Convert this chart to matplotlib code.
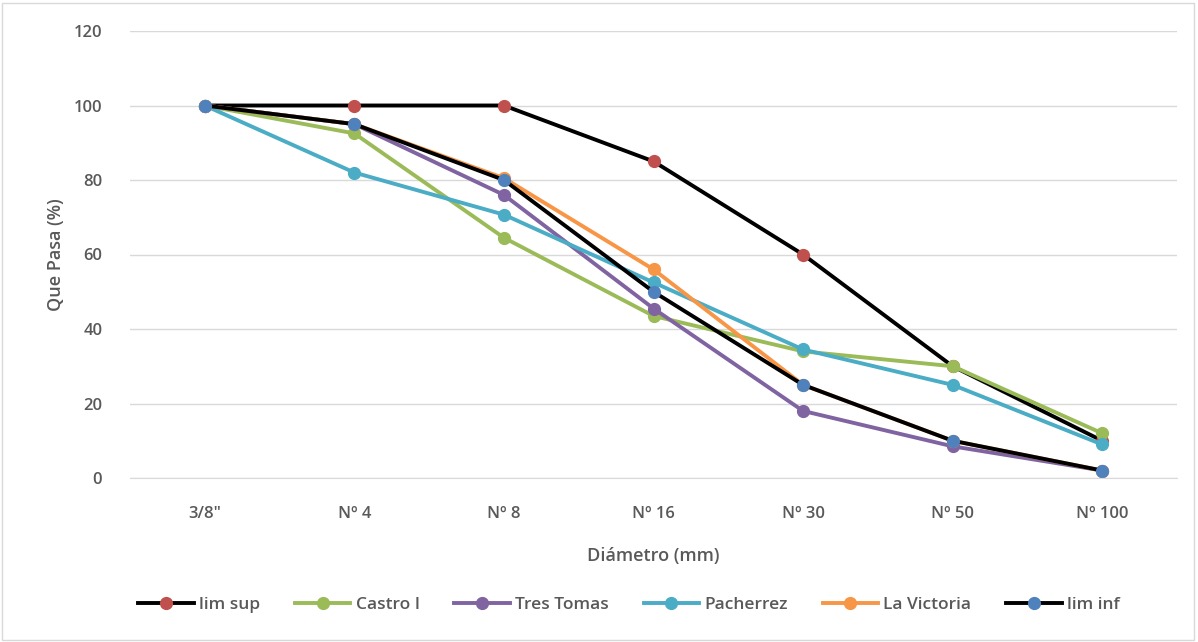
import matplotlib.pyplot as plt
from matplotlib.patches import Rectangle

plt.rcParams['font.family'] = ['Open Sans', 'DejaVu Sans']

categorias = ['3/8"', 'Nº 4', 'Nº 8', 'Nº 16', 'Nº 30', 'Nº 50', 'Nº 100']
lim_sup = [100, 100, 100, 85, 60, 30, 10]
castro = [100, 92.5, 64.5, 43.5, 34, 30, 12]
tres_tomas = [100, 95, 76, 45.5, 18, 8.5, 2]
pacherrez = [100, 82, 70.7, 52.5, 34.5, 25, 9]
la_victoria = [100, 95, 80.5, 56, 25, 10, 2]
lim_inf = [100, 95, 80, 50, 25, 10, 2]

series = [
    ('lim sup', lim_sup, 'black', '#C0504D'),
    ('Castro I', castro, '#9BBB59', '#9BBB59'),
    ('Tres Tomas', tres_tomas, '#8064A2', '#8064A2'),
    ('Pacherrez', pacherrez, '#4BACC6', '#4BACC6'),
    ('La Victoria', la_victoria, '#F79646', '#F79646'),
    ('lim inf', lim_inf, 'black', '#4F81BD'),
]

fig = plt.figure(figsize=(11.98, 6.42), dpi=100)
ax = fig.add_axes([130 / 1198, 1 - 478 / 642, (1177 - 130) / 1198, (478 - 31) / 642])

x = list(range(len(categorias)))
for nombre, vals, lc, mc in series:
    ax.plot(x, vals, color=lc, lw=2.8, marker='o', ms=8.5,
            markerfacecolor=mc, markeredgecolor=mc, label=nombre)

ax.set_xlim(-0.5, 6.5)
ax.set_ylim(0, 120)
ax.set_yticks(range(0, 121, 20))
ax.set_xticks(x)
ax.set_xticklabels(categorias)
ax.grid(axis='y', color='#D9D9D9', lw=1)
ax.set_axisbelow(True)
for s in ['top', 'right', 'left']:
    ax.spines[s].set_visible(False)
ax.spines['bottom'].set_color('#D9D9D9')
ax.tick_params(axis='both', length=0, colors='#595959', labelsize=12)
ax.tick_params(axis='y', pad=20)
ax.tick_params(axis='x', pad=20)
for t in ax.get_xticklabels() + ax.get_yticklabels():
    t.set_fontweight('semibold')

ax.set_xlabel('Diámetro (mm)', color='#595959', fontsize=13, fontweight='semibold', labelpad=18)
ax.set_ylabel('Que Pasa (%)', color='#595959', fontsize=13, fontweight='semibold', labelpad=6)

leg = fig.legend(loc='center', bbox_to_anchor=(0.525, 1 - 605 / 642), ncol=6, frameon=False,
                 fontsize=12.5, handlelength=3.2, columnspacing=2.0, handletextpad=0.3)
for t in leg.get_texts():
    t.set_color('#595959')
    t.set_fontweight('semibold')

fig.patches.append(Rectangle((0.002, 0.003), 0.995, 0.993, transform=fig.transFigure,
                             fill=False, edgecolor='#D9D9D9', lw=1))

fig.savefig('out.png', dpi=100, facecolor='white')
